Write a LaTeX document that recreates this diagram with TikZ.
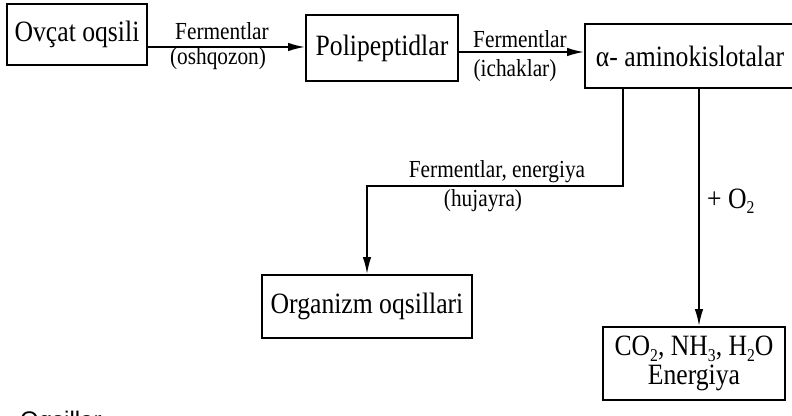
\documentclass[tikz,border=0pt]{standalone}
\usepackage{fontspec}
\setmainfont{Liberation Serif}[FakeStretch=0.87]
\newfontfamily\sansf{Liberation Sans}
\usetikzlibrary{arrows.meta}
\newcommand\lowsub[1]{\raisebox{-0.4ex}{\fontsize{18}{18}\selectfont #1}}
\begin{document}
\begin{tikzpicture}[x=1pt,y=-1pt,
  box/.style={draw, line width=1.8pt, inner sep=0pt, align=center,
    font=\fontsize{29.5}{29}\selectfont},
  lbl/.style={inner sep=0pt, font=\fontsize{24.5}{24}\selectfont},
  big/.style={inner sep=0pt, font=\fontsize{29.5}{29}\selectfont},
  arr/.style={line width=1.8pt, -{Latex[length=17pt,width=8.5pt]}},
  ln/.style={line width=1.8pt}]
\useasboundingbox (0,0) rectangle (792,415);
\clip (0,0) rectangle (792,415);
\fill[white] (0,0) rectangle (792,415);

% boxes
\node[box, minimum width=140pt, minimum height=61pt] (b1) at (77,34.5) {Ovçat oqsili};
\node[box, minimum width=152pt, minimum height=66pt] (b2) at (382,48) {Polipeptidlar};
\node[box, minimum width=210pt, minimum height=64pt] (b3) at (690,56) {α- aminokislotalar};
\node[box, minimum width=210pt, minimum height=63pt] (b4) at (367,306.5) {Organizm oqsillari};
\node[box, minimum width=182pt, minimum height=73pt] (b5) at (694,363.5)
  {CO\lowsub{2}, NH\lowsub{3}, H\lowsub{2}O\\Energiya};

% horizontal arrows
\coordinate (a1) at ([yshift=-12.5pt]b1.east);
\draw[arr] (a1) -- (a1 -| b2.west);
\coordinate (a2) at ([yshift=-4pt]b2.east);
\draw[arr] (a2) -- (a2 -| b3.west);

\node[lbl, anchor=base] (l1) at (222,39) {Fermentlar};
\node[lbl] (l2) at (218,58.5) {(oshqozon)};
\node[lbl, anchor=base] (l3) at (520,47) {Fermentlar};
\node[lbl] (l4) at (515,71) {(ichaklar)};

% branch to organism proteins
\coordinate (k1) at (623,186);
\coordinate (k2) at (367,186);
\draw[arr] (b3.south -| k1) -- (k1) -- (k2) -- (k2 |- b4.north);
\node[lbl, anchor=base] (l5) at (497,177) {Fermentlar, energiya};
\node[lbl] (l6) at (483,201) {(hujayra)};

% branch to oxidation products
\coordinate (k3) at (699,200);
\draw[arr] (b3.south -| k3) -- (k3 |- b5.north);
\node[big, anchor=base west] (l7) at (707,208) {+ O\lowsub{2}};

% partially visible text at the bottom edge (cut off in the reference too)
\node[inner sep=0pt, anchor=base west, font=\sansf\fontsize{24}{24}\selectfont] (bt) at (20,428) {Oqsillar};
\end{tikzpicture}
\end{document}
